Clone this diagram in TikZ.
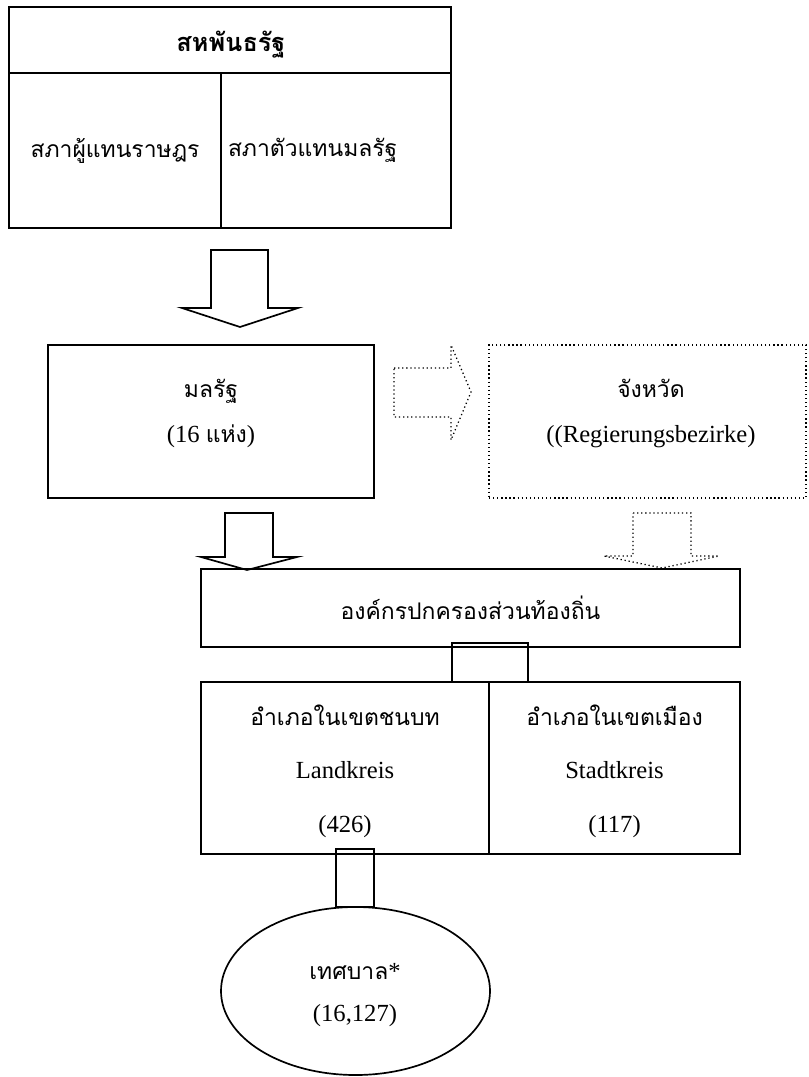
\documentclass[tikz,border=0pt]{standalone}
\usepackage{fontspec}
\setmainfont{Liberation Serif}
\newfontfamily\thaifont[Script=Thai]{Loma}
\usetikzlibrary{shapes.geometric}

\newcommand{\pix}{0.25mm}
\newcommand{\thai}[1]{{\thaifont\fontsize{16.3}{30}\selectfont #1}}

\tikzset{
  box/.style={draw, line width=1.2pt, inner sep=0pt},
  dotbox/.style={draw, line width=0.9pt, dotted, inner sep=0pt},
  lbl/.style={align=center, font=\fontsize{17.5}{32}\selectfont},
  blockarrow/.style={draw, line width=1.2pt, line join=miter},
  dotarrow/.style={draw, line width=0.9pt, dotted},
}

\begin{document}
\begin{tikzpicture}[x=\pix, y=-\pix]
\useasboundingbox (0,0) rectangle (808,1077);

% federation
\node[box, minimum width=442*\pix, minimum height=66*\pix] (fed) at (230,40) {};
\node (fedlbl) at (231,45) {{\thaifont\fontsize{18}{30}\selectfont\bfseries สหพันธรัฐ}};
\node[box, minimum width=212*\pix, minimum height=155*\pix] (rep) at (115,150.5) {\thai{สภาผู้แทนราษฎร}};
\node[box, minimum width=230*\pix, minimum height=155*\pix, inner xsep=7*\pix, text width=216*\pix, align=left] (sen) at (336,150.5) {\thai{สภาตัวแทนมลรัฐ}};

\draw[blockarrow] (211,250) -- (268,250) -- (268,308) -- (298,308) -- (240,327) -- (182,308) -- (211,308) -- cycle;

% states and provinces
\node[box, minimum width=326*\pix, minimum height=153*\pix] (state) at (211,421.5) {};
\node[lbl] (statelbl) at (211,413) {\thai{มลรัฐ}\\(16 \thai{แห่ง})};

\draw[dotarrow] (394,368) -- (451,368) -- (451,345) -- (471,392) -- (451,440) -- (451,417) -- (394,417) -- cycle;

\node[dotbox, minimum width=317*\pix, minimum height=153*\pix] (prov) at (647.5,421.5) {};
\node[lbl] (provlbl) at (651,413) {\thai{จังหวัด}\\((Regierungsbezirke)};

\draw[blockarrow] (225,513) -- (273,513) -- (273,557) -- (297,557) -- (247,570) -- (201,557) -- (225,557) -- cycle;
\draw[dotarrow] (633,513) -- (691,513) -- (691,556) -- (719,556) -- (662,568) -- (604,556) -- (633,556) -- cycle;

% local government
\node[box, minimum width=539*\pix, minimum height=78*\pix] (local) at (470.5,608) {\thai{องค์กรปกครองส่วนท้องถิ่น}};
\node[box, minimum width=76*\pix, minimum height=39*\pix] (link1) at (490,662.5) {};

\node[box, minimum width=288*\pix, minimum height=172*\pix] (rural) at (345,768) {};
\node[lbl, font=\fontsize{17.5}{38}\selectfont] (rurallbl) at (345,771) {\thai{อำเภอในเขตชนบท}\\Landkreis\\(426)};
\node[box, minimum width=251*\pix, minimum height=172*\pix] (urban) at (614.5,768) {};
\node[lbl, font=\fontsize{17.5}{38}\selectfont] (urbanlbl) at (614.5,771) {\thai{อำเภอในเขตเมือง}\\Stadtkreis\\(117)};

\node[box, minimum width=38*\pix, minimum height=58*\pix] (link2) at (355,878) {};
\node[box, ellipse, minimum width=269*\pix, minimum height=168*\pix] (muni) at (355.5,991) {};
\node[lbl, font=\fontsize{17.5}{30}\selectfont] (munilbl) at (355,995) {\thai{เทศบาล}*\\(16,127)};
\end{tikzpicture}
\end{document}
